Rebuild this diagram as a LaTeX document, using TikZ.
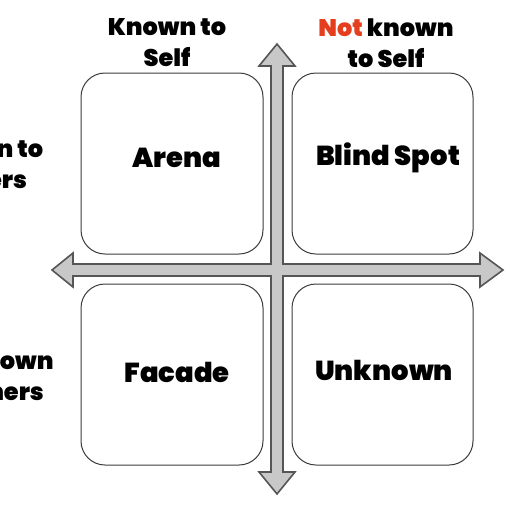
\documentclass[tikz,border=0pt]{standalone}
\usepackage{fontspec}
\setmainfont{Poppins}[BoldFont={Poppins Black}]
\definecolor{notred}{RGB}{228,62,30}
\definecolor{arrowfill}{RGB}{200,200,200}
\definecolor{arrowline}{RGB}{85,85,85}
\definecolor{boxline}{RGB}{60,60,60}
\begin{document}
\begin{tikzpicture}[x=0.5pt,y=-0.5pt,
  quad/.style={draw=boxline,line width=0.5pt,rounded corners=12pt,fill=white},
  qlabel/.style={font=\fontsize{13.7}{16}\selectfont\bfseries},
  head/.style={font=\fontsize{12}{15.5}\selectfont\bfseries,align=center},
  cross/.style={draw=arrowline,line width=0.8pt,fill=arrowfill,line join=miter}]
\useasboundingbox (0,0) rectangle (510,510);
\clip (0,0) rectangle (510,510);
% quadrant boxes
\draw[quad] (81,73) rectangle (263,254);
\draw[quad] (292,73) rectangle (473,254);
\draw[quad] (81,284) rectangle (263,465);
\draw[quad] (292,284) rectangle (473,465);
\node[qlabel] (arena) at (177,158) {Arena};
\node[qlabel] (blind) at (388,158) {Blind Spot};
\node[qlabel] (facade) at (177,372) {Facade};
\node[qlabel] (unknown) at (384,370) {Unknown};
% cross of arrows
\draw[cross] (277,44) -- (295,66) -- (283,66) -- (283,264) -- (480,264) -- (480,253)
  -- (503,270) -- (480,287) -- (480,276) -- (283,276) -- (283,472) -- (295,472)
  -- (277,494) -- (259,472) -- (271,472) -- (271,276) -- (73,276) -- (73,287)
  -- (52,270) -- (73,253) -- (73,264) -- (271,264) -- (271,66) -- (259,66) -- cycle;
% headings
\node[head] (kself) at (167,43) {Known to\\Self};
\node[head] (nself) at (386,43) {\textcolor{notred}{Not} known\\to Self};
\node[head] (kothers) at (-16,165) {Known to\\Others};
\node[head] (nothers) at (-14,376) {Not known\\to Others};
\end{tikzpicture}
\end{document}
